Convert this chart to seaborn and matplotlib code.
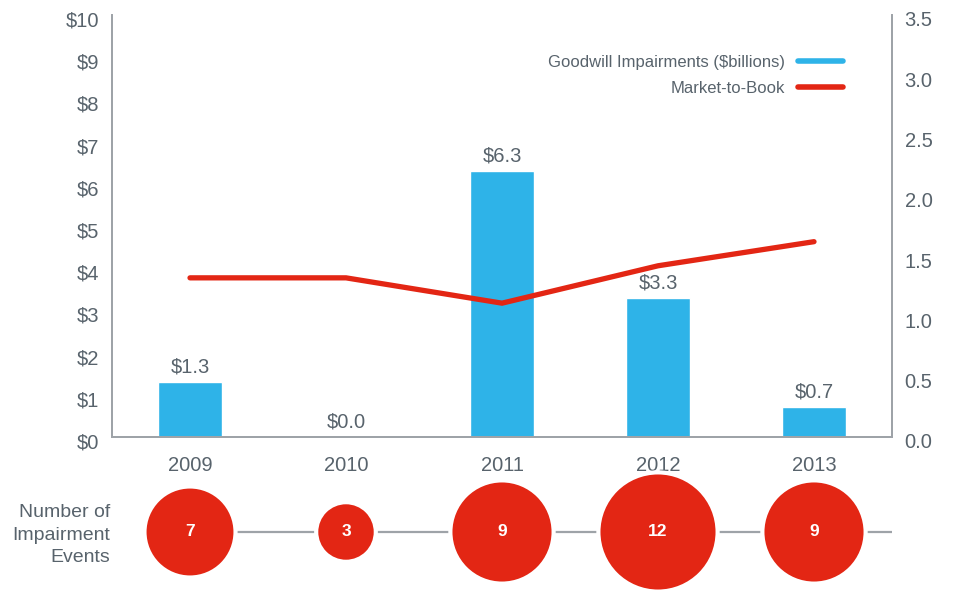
import numpy as np
import pandas as pd
import matplotlib.pyplot as plt
import matplotlib.transforms as mtrans
import seaborn as sns
from matplotlib.lines import Line2D

# Chart values
years = ["2009", "2010", "2011", "2012", "2013"]
impairments = [1.3, 0.0, 6.3, 3.3, 0.7]          # $ billions
market_to_book = [1.32, 1.32, 1.11, 1.42, 1.62]
events = [7, 3, 9, 12, 9]

blue = "#2eb3e8"
red = "#e32614"
grey_txt = "#58636c"
grey_line = "#9ea3a8"

sns.set_theme(style="white")
plt.rcParams["font.family"] = ["Liberation Sans", "DejaVu Sans"]

df = pd.DataFrame({"year": years, "pos": np.arange(len(years)),
                   "imp": impairments, "mtb": market_to_book, "events": events})

fig = plt.figure(figsize=(9.54, 5.91), dpi=100)
W, H = 954, 591
ax = fig.add_axes([112 / W, 1 - 437 / H, 780 / W, 422 / H])

# Bars
sns.barplot(data=df, x="year", y="imp", color=blue, width=0.41,
            saturation=1, ax=ax, zorder=2)
for i, v in enumerate(impairments):
    ax.annotate(f"${v:.1f}", (i, v), xytext=(0, 4), textcoords="offset points",
                ha="center", va="bottom", fontsize=14.5, color=grey_txt)

ax.set_xlim(-0.5, len(years) - 0.5)
ax.set_ylim(0, 10)
ax.set_yticks(range(0, 11))
ax.set_yticklabels([f"${t}" for t in range(0, 11)])
ax.set_xlabel("")
ax.set_ylabel("")
ax.tick_params(axis="x", length=0, pad=14, labelsize=14.5, labelcolor=grey_txt)
ax.tick_params(axis="y", length=0, pad=9, labelsize=14.5, labelcolor=grey_txt)

# Line on secondary axis
ax2 = ax.twinx()
sns.lineplot(data=df, x="pos", y="mtb", color=red, linewidth=3.8, ax=ax2,
             solid_capstyle="round", solid_joinstyle="miter")
ax2.set_ylim(0, 3.5)
ax2.set_yticks(np.arange(0, 3.51, 0.5))
ax2.set_yticklabels([f"{t:.1f}" for t in np.arange(0, 3.51, 0.5)])
ax2.set_ylabel("")
ax2.tick_params(axis="y", length=0, pad=9, labelsize=14.5, labelcolor=grey_txt)

# nudge y tick labels slightly down as in the original
shift = mtrans.ScaledTranslation(0, -4 / 100, fig.dpi_scale_trans)
for lab in ax.get_yticklabels() + ax2.get_yticklabels():
    lab.set_transform(lab.get_transform() + shift)

for a in (ax, ax2):
    for s in a.spines.values():
        s.set_color(grey_line)
        s.set_linewidth(1.3)
    a.spines["top"].set_visible(False)

handles = [Line2D([], [], color=blue, lw=4, solid_capstyle="round"),
           Line2D([], [], color=red, lw=4, solid_capstyle="round")]
leg = ax2.legend(handles, ["Goodwill Impairments ($billions)", "Market-to-Book"],
                 loc="upper right", bbox_to_anchor=(0.957, 0.94), frameon=False,
                 markerfirst=False, handlelength=2.7, fontsize=12,
                 labelspacing=0.65, handletextpad=0.8)
for t in leg.get_texts():
    t.set_color(grey_txt)

# Bubble row
bx = fig.add_axes([112 / W, 0, 780 / W, 118 / H])
bx.set_xlim(-0.5, len(years) - 0.5)
bx.set_ylim(-1, 1)
bx.axis("off")
bx.plot([0, len(years) - 0.5], [0, 0], color=grey_line, lw=1.6, zorder=1)
k = 614
sns.scatterplot(data=df.assign(y=0), x="pos", y="y", size="events",
                sizes=(k * min(events), k * max(events)), color=red,
                edgecolor="white", linewidth=3, legend=False, ax=bx, zorder=3,
                clip_on=False)
for i, n in enumerate(events):
    bx.text(i, 0, str(n), ha="center", va="center", color="white",
            fontsize=12.5, fontweight="bold", zorder=4)

fig.text(110 / W, 1 - 535 / H, "Number of\nImpairment\nEvents", ha="right",
         va="center", fontsize=14, color=grey_txt, linespacing=1.45)

fig.savefig("out.png", dpi=100)
